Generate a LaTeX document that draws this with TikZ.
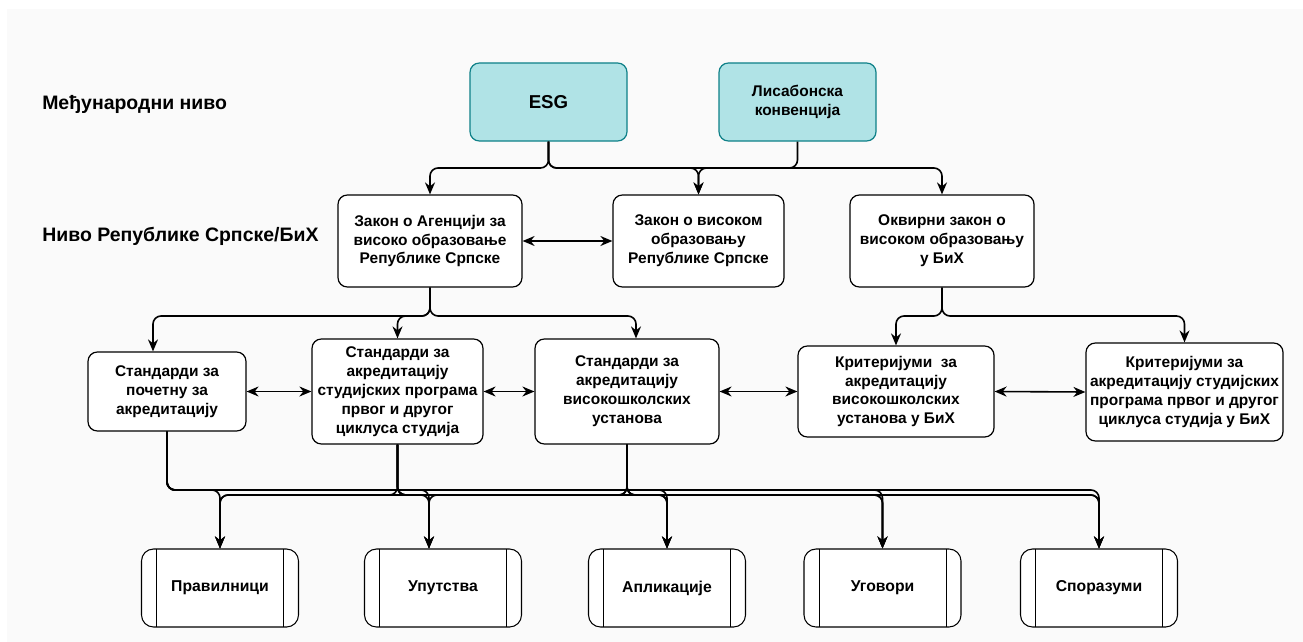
\documentclass[tikz,border=0pt]{standalone}
\usepackage{fontspec}
\setmainfont{Liberation Sans}
\usepackage{tikz}
\usetikzlibrary{arrows.meta}

\definecolor{tealfill}{HTML}{B0E3E6}
\definecolor{tealline}{HTML}{0E8088}
\definecolor{pagegray}{HTML}{FAFAFA}

\begin{document}
\begin{tikzpicture}[x=0.75pt,y=-0.75pt,
    box/.style={draw,line width=0.9pt,rounded corners=7pt,fill=white,align=center,
        font=\fontsize{11.6}{14.2}\selectfont\bfseries,inner sep=1pt},
    topbox/.style={box,fill=tealfill,draw=tealline},
    docbox/.style={draw,line width=0.8pt,rounded corners=9pt,fill=white,
        minimum width=117.75pt,minimum height=58.5pt,
        font=\fontsize{11.8}{14}\selectfont\bfseries,
        path picture={
            \draw[line width=0.6pt] ([xshift=11.25pt]path picture bounding box.north west) -- ([xshift=11.25pt]path picture bounding box.south west);
            \draw[line width=0.6pt] ([xshift=-11.25pt]path picture bounding box.north east) -- ([xshift=-11.25pt]path picture bounding box.south east);}},
    level/.style={anchor=west,inner sep=0pt,font=\fontsize{14.6}{16}\selectfont\bfseries},
    conn/.style={line width=1.2pt,rounded corners=6pt,-{Stealth[length=9pt,width=7.5pt]}},
    both/.style={line width=1.2pt,{Stealth[length=9pt,width=7.5pt]}-{Stealth[length=9pt,width=7.5pt]}}]

    \useasboundingbox (0,0) rectangle (1303,642);
    \fill[pagegray] (7,9) rectangle (1303,642);

    % levels
    \node[level] (lvlint) at (42,104) {Међународни ниво};
    \node[level] (lvlrs) at (42,236) {Ниво Републике Српске/БиХ};

    % international
    \node[topbox,minimum width=117.75pt,minimum height=58.5pt,font=\fontsize{14}{16}\selectfont\bfseries] (esg) at (548.5,102) {ESG};
    \node[topbox,minimum width=117.75pt,minimum height=58.5pt] (lisabon) at (797.5,102) {Лисабонска\\конвенција};

    % laws
    \node[box,minimum width=138pt,minimum height=69pt] (agencija) at (430,241)
        {Закон о Агенцији за\\високо образовање\\Републике Српске};
    \node[box,minimum width=128.25pt,minimum height=69pt] (zakon) at (698.5,241)
        {Закон о високом\\образовању\\Републике Српске};
    \node[box,minimum width=138pt,minimum height=69pt] (okvirni) at (942,241)
        {Оквирни закон о\\високом образовању\\у БиХ};

    % standards and criteria
    \node[box,minimum width=118.5pt,minimum height=59.25pt] (pocetna) at (167,391.5)
        {Стандарди за\\почетну за\\акредитацију};
    \node[box,minimum width=128.25pt,minimum height=78.75pt] (studprog) at (397.5,391.5)
        {Стандарди за\\акредитацију\\студијских програма\\првог и другог\\циклуса студија};
    \node[box,minimum width=138pt,minimum height=78.75pt] (ustanove) at (627,391.5)
        {Стандарди за\\акредитацију\\високошколских\\установа};
    \node[box,minimum width=147pt,minimum height=68.25pt] (kritust) at (896,391.5)
        {Критеријуми\ \ за\\акредитацију\\високошколских\\установа у БиХ};
    \node[box,minimum width=147.75pt,minimum height=73.5pt,inner sep=0pt] (kritprog) at (1184.5,392)
        {Критеријуми за\\акредитацију студијских\\програма првог и другог\\циклуса студија у БиХ};

    % documents
    \node[docbox] (pravilnici) at (220,588) {Правилници};
    \node[docbox] (uputstva) at (443,588) {Упутства};
    \node[docbox] (aplikacije) at (667,588) {Апликације};
    \node[docbox] (ugovori) at (882.5,588) {Уговори};
    \node[docbox] (sporazumi) at (1099,588) {Споразуми};

    % top links
    \coordinate (topbus) at (0,168);
    \draw[conn] (esg.south) -- (esg.south |- topbus) -| (agencija.north);
    \draw[conn] (esg.south) -- (esg.south |- topbus) -| (okvirni.north);
    \draw[conn] (esg.south) -- (esg.south |- topbus) -| (zakon.north);
    \draw[conn] (lisabon.south) -- (lisabon.south |- topbus) -| (zakon.north);

    \draw[both] (agencija.east) -- (zakon.west);

    % second level links
    \coordinate (midbus) at (0,316);
    \draw[conn] (agencija.south) -- (agencija.south |- midbus) -| ([xshift=-10.5pt]pocetna.north);
    \draw[conn] (agencija.south) -- (agencija.south |- midbus) -| (studprog.north);
    \draw[conn] (agencija.south) -- (agencija.south |- midbus) -| ([xshift=6.75pt]ustanove.north);
    \draw[conn] (okvirni.south) -- (okvirni.south |- midbus) -| (kritust.north);
    \draw[conn] (okvirni.south) -- (okvirni.south |- midbus) -| (kritprog.north);

    \draw[both] (pocetna.east) -- (studprog.west);
    \draw[both] (studprog.east) -- (ustanove.west);
    \draw[both] (ustanove.east) -- (kritust.west);
    \draw[both] (kritust.east) -- (kritprog.west);

    % to documents
    \foreach \src/\by in {pocetna/490,studprog/495,ustanove/495}
        \foreach \dst/\dx in {pravilnici/0,uputstva/-10.5,aplikacije/0,ugovori/0,sporazumi/0}
            \draw[conn] (\src.south) -- (\src.south |- 0,\by) -| ([xshift=\dx pt]\dst.north);
\end{tikzpicture}
\end{document}
